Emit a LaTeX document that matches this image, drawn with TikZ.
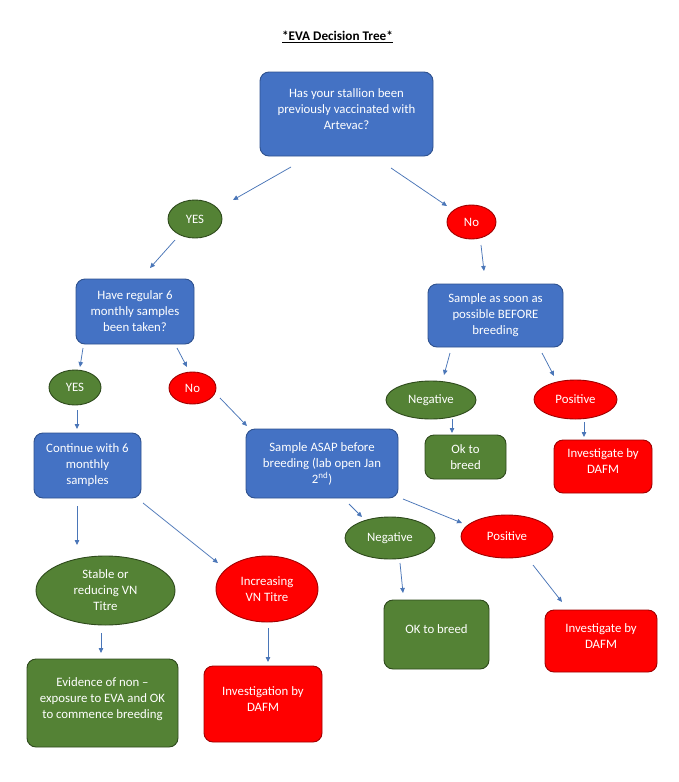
\documentclass[tikz,border=0pt]{standalone}
\usepackage{fontspec}
\setmainfont{Carlito}
\usetikzlibrary{arrows.meta,shapes.geometric}
\definecolor{bfill}{HTML}{4472C4}
\definecolor{bdraw}{HTML}{2F528F}
\definecolor{gfill}{HTML}{548235}
\definecolor{gdraw}{HTML}{2E4A1C}
\definecolor{rfill}{HTML}{FF0000}
\definecolor{rdraw}{HTML}{A00000}
\definecolor{arrowc}{HTML}{4A76B8}
\newcommand\boxtxt[1]{\raisebox{0pt}[\height][\dimexpr\depth+8pt\relax]{\begin{tabular}{@{}c@{}}#1\end{tabular}}}
\tikzset{
  base/.style={text=white, align=center, inner sep=0pt, line width=0.9pt, font=\fontsize{12.8}{16}\selectfont},
  bluebox/.style={base, rectangle, rounded corners=9pt, fill=bfill, draw=bdraw},
  greenbox/.style={base, rectangle, rounded corners=9pt, fill=gfill, draw=gdraw},
  redbox/.style={base, rectangle, rounded corners=9pt, fill=rfill, draw=rdraw},
  greenell/.style={base, ellipse, fill=gfill, draw=gdraw},
  redell/.style={base, ellipse, fill=rfill, draw=rdraw},
  sz/.style 2 args={minimum width=#1pt, minimum height=#2pt},
  conn/.style={draw=arrowc, line width=0.75pt, -{Triangle[length=5pt,width=4.5pt]}}
}
\begin{document}
\begin{tikzpicture}[x=1pt,y=-1pt]
\useasboundingbox (0,0) rectangle (678,782);
\fill[white] (0,0) rectangle (678,782);
\node[font=\fontsize{13.2}{15}\selectfont\bfseries] (title) at (337.5,37) {\underline{*EVA Decision Tree*}};

\node[bluebox, sz={173}{84}] (q1) at (346.5,114) {\boxtxt{Has your stallion been\\previously vaccinated with\\Artevac?}};
\node[greenell, sz={54}{38}] (yes1) at (195,219) {YES};
\node[redell, sz={49}{34}] (no1) at (471.5,222) {No};
\node[bluebox, sz={118}{65}] (q2) at (135,311.5) {Have regular 6\\monthly samples\\been taken?};
\node[bluebox, sz={135}{63}] (sr) at (495.5,315.5) {Sample as soon as\\possible BEFORE\\breeding};
\node[greenell, sz={52}{35}] (yes2) at (75,387.5) {YES};
\node[redell, sz={47}{32}] (no2) at (192.5,388) {No};
\node[greenell, sz={90}{38}] (negR) at (431,400) {Negative};
\node[redell, sz={83}{39}] (posR) at (575.5,399.5) {Positive};
\node[greenbox, sz={81}{44}] (okR) at (465.5,457) {Ok to\\breed};
\node[redbox, sz={98}{53}] (invR) at (603,466.5) {\boxtxt{Investigate by\\DAFM}};
\node[bluebox, sz={107}{65}] (cont) at (87.5,465.5) {Continue with 6\\monthly\\samples};
\node[bluebox, sz={152}{69}] (asap) at (322,463.5) {Sample ASAP before\\breeding (lab open Jan\\2\textsuperscript{nd})};
\node[greenell, sz={90}{42}] (negM) at (390,538) {Negative};
\node[redell, sz={92}{43}] (posM) at (507,536.5) {Positive};
\node[greenell, sz={139}{69}] (stable) at (105.5,590.5) {Stable or\\reducing VN\\Titre};
\node[redell, sz={102}{66}] (incr) at (267,589) {Increasing\\VN Titre};
\node[greenbox, sz={105}{69}] (okM) at (436.5,634.5) {\boxtxt{OK to breed}};
\node[redbox, sz={112}{62}] (invM) at (601,641) {\boxtxt{Investigate by\\DAFM}};
\node[greenbox, sz={151}{88}] (evid) at (102.5,703) {\boxtxt{Evidence of non --\\exposure to EVA and OK\\to commence breeding}};
\node[redbox, sz={118}{76}] (invL) at (263,704) {\boxtxt{Investigation by\\DAFM}};

% connector end points
\coordinate (a1s) at (291,167);  \coordinate (a1e) at (233,200);
\coordinate (a2s) at (391,168);  \coordinate (a2e) at (447,206);
\coordinate (a3s) at (175,240);  \coordinate (a3e) at (150,268);
\coordinate (a4s) at (481,245);  \coordinate (a4e) at (484,271);
\coordinate (a5s) at (83,348);   \coordinate (a5e) at (80,367);
\coordinate (a6s) at (177,348);  \coordinate (a6e) at (187,367);
\coordinate (a7s) at (77,410);   \coordinate (a7e) at (77,429);
\coordinate (a8s) at (220,398);  \coordinate (a8e) at (247,426);
\coordinate (a9s) at (450,353);  \coordinate (a9e) at (444,375);
\coordinate (a10s) at (542,353); \coordinate (a10e) at (554,376);
\coordinate (a11s) at (452,419); \coordinate (a11e) at (452,433);
\coordinate (a12s) at (584,422); \coordinate (a12e) at (584,437);
\coordinate (a13s) at (349,504); \coordinate (a13e) at (362,517);
\coordinate (a14s) at (403,499); \coordinate (a14e) at (462,523);
\coordinate (a15s) at (400,563); \coordinate (a15e) at (403,593);
\coordinate (a16s) at (533,565); \coordinate (a16e) at (562,602);
\coordinate (a17s) at (77,506);  \coordinate (a17e) at (77,545);
\coordinate (a18s) at (143,503); \coordinate (a18e) at (218,563);
\coordinate (a19s) at (101,633); \coordinate (a19e) at (101,653);
\coordinate (a20s) at (268,628); \coordinate (a20e) at (268,662);

\foreach \i in {1,...,20} {\draw[conn] (a\i s) -- (a\i e);}
\end{tikzpicture}
\end{document}
